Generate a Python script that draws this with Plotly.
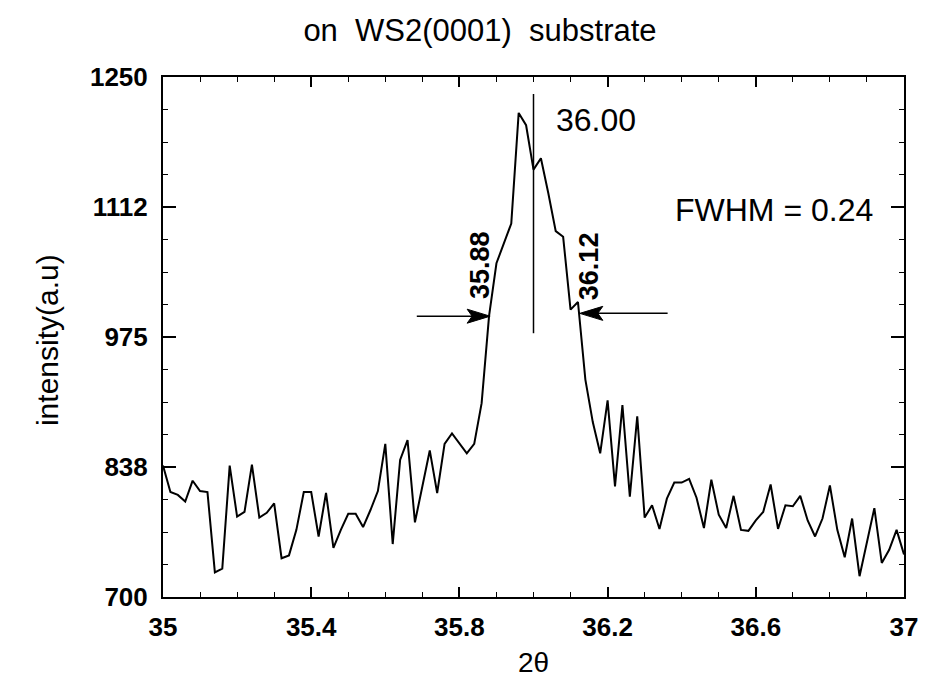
import numpy as np
import plotly.graph_objects as go

# scan grid (2theta, step 0.02 deg)
two_theta = np.round(np.linspace(35.0, 37.0, 101), 2)

intensity = [
    839, 811, 808, 801, 823, 812, 811, 726, 730, 839,
    785, 790, 840, 784, 789, 799, 741, 744, 771, 811,
    811, 764, 810, 752, 771, 788, 788, 774, 792, 812,
    862, 756, 845, 866, 779, 816, 855, 810, 862, 873,
    863, 852, 862, 905, 997, 1053, 1074, 1095, 1212, 1199,
    1152, 1164, 1127, 1087, 1081, 1004, 1012, 930, 885, 852,
    908, 817, 903, 806, 891, 784, 797, 772, 804, 821,
    821, 825, 805, 773, 824, 787, 773, 807, 771, 770,
    781, 790, 819, 772, 797, 796, 807, 781, 764, 783,
    818, 771, 742, 783, 722, 757, 794, 736, 750, 771,
    745,
]

x_tickvals = [35.0, 35.4, 35.8, 36.2, 36.6, 37.0]
x_ticktext = ["35", "35.4", "35.8", "36.2", "36.6", "37"]
y_tickvals = [700, 837.5, 975, 1112.5, 1250]
y_ticktext = ["700", "838", "975", "1112", "1250"]

peak_pos = 36.00
half_left = 35.88
half_right = 36.12
fwhm = 0.24

FONT = "Liberation Sans"

fig = go.Figure()
fig.add_trace(go.Scatter(
    x=two_theta, y=intensity, mode="lines",
    line=dict(color="black", width=2), showlegend=False,
))

# vertical marker at the peak
fig.add_shape(type="line", x0=peak_pos, x1=peak_pos, y0=979, y1=1232,
              xref="x", yref="y", line=dict(color="black", width=1.5))

# FWHM arrows
y_la, y_ra = 997, 1000
fig.add_shape(type="line", x0=35.685, x1=half_left - 0.02, y0=y_la, y1=y_la,
              line=dict(color="black", width=1.5))
fig.add_shape(type="line", x0=half_right + 0.02, x1=36.362, y0=y_ra, y1=y_ra,
              line=dict(color="black", width=1.5))
fig.add_shape(type="path", xsizemode="pixel", ysizemode="pixel",
              xanchor=half_left + 0.003, yanchor=y_la,
              path="M0,0 L-23,7 L-18,0 L-23,-7 Z",
              fillcolor="black", line=dict(color="black", width=1))
fig.add_shape(type="path", xsizemode="pixel", ysizemode="pixel",
              xanchor=half_right + 0.005, yanchor=y_ra,
              path="M0,0 L23,7 L18,0 L23,-7 Z",
              fillcolor="black", line=dict(color="black", width=1))

fig.add_annotation(x=36.169, y=1204, text=f"{peak_pos:.2f}", showarrow=False,
                   font=dict(family=FONT, size=32, color="black"), xref="x", yref="y")
fig.add_annotation(x=36.648, y=1109, text=f"FWHM = {fwhm}", showarrow=False,
                   font=dict(family=FONT, size=32, color="black"), xref="x", yref="y")
fig.add_annotation(x=35.855, y=1051, text=f"{half_left:.2f}", showarrow=False,
                   textangle=-90, font=dict(family=FONT, size=27, color="black", weight="bold"),
                   xref="x", yref="y")
fig.add_annotation(x=36.150, y=1050, text=f"{half_right:.2f}", showarrow=False,
                   textangle=-90, font=dict(family=FONT, size=27, color="black", weight="bold"),
                   xref="x", yref="y")

# axis titles
fig.add_annotation(x=(28 - 163) / 744, y=(597 - 340) / 520, xref="paper", yref="paper",
                   text="intensity(a.u)", textangle=-90, showarrow=False,
                   font=dict(family=FONT, size=30, color="black"))
fig.add_annotation(x=0.5, y=(597 - 680) / 520, xref="paper", yref="paper",
                   text="2θ", showarrow=False,
                   font=dict(family=FONT, size=28, color="black"))

tick_font = dict(family=FONT, size=26, color="black", weight="bold")

fig.update_layout(
    width=930, height=694,
    margin=dict(l=163, r=23, t=77, b=97),
    paper_bgcolor="white", plot_bgcolor="white",
    title=dict(text="on  WS2(0001)  substrate", x=480 / 930, xanchor="center",
               xref="container", y=1 - 30 / 694, yref="container", yanchor="middle",
               font=dict(family=FONT, size=31, color="black")),
    xaxis=dict(
        range=[35, 37], tickvals=x_tickvals, ticktext=x_ticktext,
        ticks="inside", ticklen=10, tickwidth=1.5, tickcolor="black",
        minor=dict(dtick=0.1, tick0=35, ticks="inside", ticklen=5, tickwidth=1.2, tickcolor="black"),
        showline=True, linecolor="black", linewidth=2, mirror="allticks",
        showgrid=False, zeroline=False, tickfont=tick_font, ticklabelstandoff=6,
    ),
    yaxis=dict(
        range=[700, 1250], tickvals=y_tickvals, ticktext=y_ticktext,
        ticks="inside", ticklen=13, tickwidth=1.5, tickcolor="black",
        minor=dict(dtick=34.375, tick0=700, ticks="inside", ticklen=5, tickwidth=1.2, tickcolor="black"),
        showline=True, linecolor="black", linewidth=2, mirror="allticks",
        showgrid=False, zeroline=False, tickfont=tick_font, ticklabelstandoff=8,
    ),
)

fig.write_html("out.html")
